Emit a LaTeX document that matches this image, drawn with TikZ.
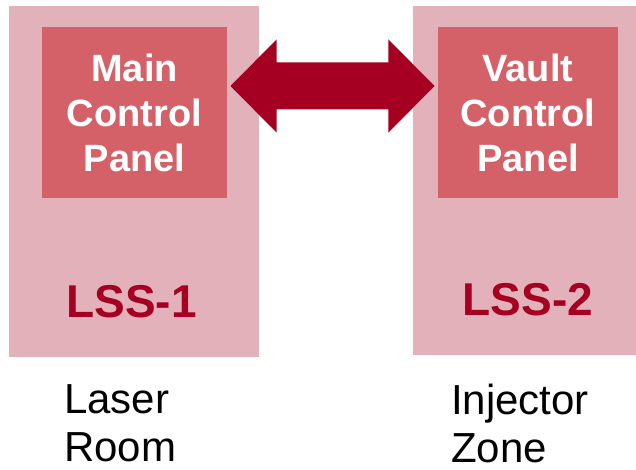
\documentclass[tikz,border=0pt]{standalone}
\usepackage{fontspec}
\setmainfont{Liberation Sans}
\usetikzlibrary{calc}
\definecolor{outerpink}{HTML}{E3B1B9}
\definecolor{innerred}{HTML}{D46167}
\definecolor{darkred}{HTML}{A50021}
\tikzset{
  outerbox/.style={fill=outerpink, draw=none, inner sep=0pt, minimum height=#1},
  innerbox/.style={fill=innerred, draw=none, inner sep=0pt, minimum height=171pt, text=white,
    align=center, font=\bfseries\fontsize{38}{45}\selectfont},
  lsslabel/.style={inner sep=0pt, anchor=base, text=darkred, font=\bfseries\fontsize{46}{54}\selectfont},
  roomlabel/.style={inner sep=0pt, anchor=north west, align=left, text=black, font=\fontsize{42}{48}\selectfont},
  arrowfill/.style={fill=darkred, draw=none}
}
\begin{document}
\begin{tikzpicture}[x=1pt, y=-1pt]
\useasboundingbox (0,0) rectangle (636,469);
% outer boxes
\node[outerbox=351pt, minimum width=250pt] (box1) at (134,181.5) {};
\node[outerbox=349pt, minimum width=223pt] (box2) at (524.5,180.5) {};
% inner panels
\node[innerbox, minimum width=185pt] (mcp) at (134.5,112.5) {Main\\Control\\Panel};
\node[innerbox, minimum width=180pt] (vcp) at (528,112.5) {Vault\\Control\\Panel};
% LSS labels
\node[lsslabel] (lss1) at (131.5,317) {LSS-1};
\node[lsslabel] (lss2) at (528,315) {LSS-2};
% room labels
\node[roomlabel] (room1) at (64,384) {Laser\\Room};
\node[roomlabel] (room2) at (451,384) {Injector\\Zone};
% double arrow between panels
\coordinate (lt) at ($(mcp.east |- 0,86)+(3.3,0)$);
\coordinate (rt) at ($(vcp.west |- 0,86)+(-3.3,0)$);
\fill[arrowfill] (lt) -- (276.7,39.3) -- (276.7,62.3) -- (388.3,62.3) -- (388.3,39.3)
  -- (rt) -- (388.3,132.7) -- (388.3,109.3) -- (276.7,109.3) -- (276.7,132.7) -- cycle;
\end{tikzpicture}
\end{document}
